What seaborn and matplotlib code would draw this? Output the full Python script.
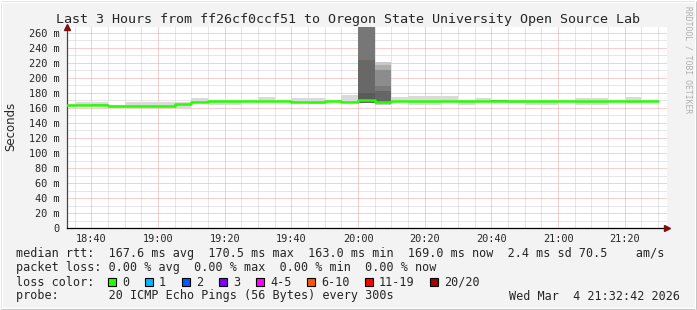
import matplotlib
matplotlib.use("Agg")
import matplotlib.pyplot as plt
import seaborn as sns
from matplotlib.patches import Rectangle
from matplotlib.ticker import FixedLocator, MultipleLocator

# ---------------- data ----------------
title = "Last 3 Hours from ff26cf0ccf51 to Oregon State University Open Source Lab"

seg_start = ["18:30", "18:35", "18:40", "18:45", "18:50", "18:55", "19:00", "19:05",
             "19:10", "19:15", "19:20", "19:25", "19:30", "19:35", "19:40", "19:45",
             "19:50", "19:55", "20:00", "20:05", "20:10", "20:15", "20:20", "20:25",
             "20:30", "20:35", "20:40", "20:45", "20:50", "20:55", "21:00", "21:05",
             "21:10", "21:15", "21:20", "21:25"]
median_ms = [163.5, 164.5, 164.5, 163.0, 163.0, 163.0, 163.0, 165.0,
             167.3, 169.5, 169.5, 169.5, 169.5, 169.5, 168.4, 168.4,
             169.5, 168.5, 170.5, 168.3, 169.5, 169.0, 169.0, 169.3,
             169.0, 169.5, 169.5, 169.0, 169.3, 169.3, 169.3, 169.0,
             169.0, 169.3, 169.5, 169.0]
smoke_lo = [161.0, 162.6, 162.0, 159.6, 159.6, 159.6, 160.0, 159.5,
            166.0, 164.0, 164.0, 168.4, 168.4, 168.4, 166.0, 165.3,
            168.4, 166.0, 166.0, 164.0, 169.0, 164.0, 164.0, 169.0,
            164.0, 169.0, 168.4, 166.0, 164.0, 164.0, 168.4, 164.0,
            164.0, 168.4, 167.0, 168.4]
smoke_hi = [165.0, 168.4, 168.4, 163.5, 168.4, 168.4, 168.4, 168.4,
            172.8, 170.6, 170.6, 170.6, 175.0, 170.6, 172.8, 172.8,
            170.6, 177.0, 267.0, 221.5, 175.0, 176.0, 176.0, 176.0,
            170.6, 173.0, 170.6, 170.6, 170.6, 170.6, 170.6, 173.0,
            173.0, 170.6, 175.0, 170.6]
# darker inner smoke layers (segment start, low, high, grey shade)
layer_time = ["18:40", "20:00", "20:00", "20:00", "20:05", "20:05", "20:05", "20:05", "20:05", "20:40"]
layer_lo = [163.0, 166.0, 166.0, 168.0, 164.0, 165.0, 166.0, 167.0, 168.0, 168.6]
layer_hi = [165.5, 267.0, 224.0, 180.0, 221.5, 217.0, 210.0, 189.0, 182.0, 170.0]
layer_grey = ["#ababab", "#777777", "#686868", "#5a5a5a", "#c8c8c8", "#adadad",
              "#8c8c8c", "#7a7a7a", "#666666", "#8a8a8a"]

ytick_values = [0, 20, 40, 60, 80, 100, 120, 140, 160, 180, 200, 220, 240, 260]
ytick_labels = ["0", "20 m", "40 m", "60 m", "80 m", "100 m", "120 m", "140 m",
                "160 m", "180 m", "200 m", "220 m", "240 m", "260 m"]
xtick_labels = ["18:40", "19:00", "19:20", "19:40", "20:00", "20:20", "20:40", "21:00", "21:20"]
time_start = "18:32:42"

row_rtt = "median rtt:  167.6 ms avg  170.5 ms max  163.0 ms min  169.0 ms now  2.4 ms sd 70.5    am/s"
row_loss = "packet loss: 0.00 % avg  0.00 % max  0.00 % min  0.00 % now"
row_probe = "probe:       20 ICMP Echo Pings (56 Bytes) every 300s"
stamp = "Wed Mar  4 21:32:42 2026"
loss_labels = ["0", "1", "2", "3", "4-5", "6-10", "11-19", "20/20"]
loss_colors = ["#26ff00", "#00b8ff", "#0059ff", "#7e00ff", "#ff00ff", "#ff5500", "#ff0000", "#a00000"]


def to_min(s):
    parts = [int(p) for p in s.split(":")]
    m = (parts[0] - 18) * 60 + parts[1]
    if len(parts) > 2:
        m += parts[2] / 60.0
    return m


# ---------------- figure ----------------
sns.set_style("white")
plt.rcParams["font.family"] = ["DejaVu Sans Mono", "DejaVu Sans"]

W, H = 697, 310
fig = plt.figure(figsize=(W / 100, H / 100), dpi=100)
fig.patch.set_facecolor("#f3f3f3")

def px(x, y):
    return x / W, 1 - y / H

ax_l, ax_r, ax_t, ax_b = 67, 667, 27.4, 228.3
ax = fig.add_axes([ax_l / W, 1 - ax_b / H, (ax_r - ax_l) / W, (ax_b - ax_t) / H])
ax.set_facecolor("white")

x0 = to_min(time_start)
ax.set_xlim(x0, x0 + 180)
ax.set_ylim(0, 267)

starts = [to_min(s) for s in seg_start]
step = starts[1] - starts[0]
edges = starts + [starts[-1] + step]

# grid
ax.xaxis.set_major_locator(FixedLocator([to_min(s) for s in xtick_labels]))
ax.xaxis.set_minor_locator(MultipleLocator(5))
ax.yaxis.set_major_locator(FixedLocator(ytick_values))
ax.yaxis.set_minor_locator(MultipleLocator(10))
ax.grid(which="minor", color="#cfcfcf", linestyle=(0, (1, 1)), linewidth=0.72)
ax.grid(which="major", color="#f2a0a0", linestyle=(0, (1, 1)), linewidth=0.72)
ax.set_axisbelow(True)

# smoke
ax.fill_between(edges, smoke_lo + [smoke_lo[-1]], smoke_hi + [smoke_hi[-1]],
                step="post", color="#dadada", linewidth=0, zorder=2)
for t, lo, hi, g in zip(layer_time, layer_lo, layer_hi, layer_grey):
    s = to_min(t)
    ax.fill_between([s, s + step], [lo, lo], [hi, hi], color=g, linewidth=0, zorder=3)

# median line
sns.lineplot(x=edges, y=median_ms + [median_ms[-1]], drawstyle="steps-post",
             color="#26ff00", linewidth=1.8, estimator=None, sort=False, ax=ax, zorder=4)

ax.set_xticklabels(xtick_labels)
ax.set_yticklabels(ytick_labels)
ax.tick_params(axis="both", which="major", labelsize=7.4, length=3, width=0.7,
               color="#555555", direction="out", pad=2.5)
ax.tick_params(axis="both", which="minor", length=2, width=0.7, color="#999999", direction="out")
ax.tick_params(axis="x", pad=1.2)

for side in ["top", "right"]:
    ax.spines[side].set_visible(False)
ax.spines["left"].set_color("#444444")
ax.spines["bottom"].set_color("#000000")
ax.spines["left"].set_linewidth(0.9)
ax.spines["bottom"].set_linewidth(0.9)

# axis arrows
ax.plot([0], [1.0], marker="^", markersize=5, color="#7f1010", transform=ax.transAxes, clip_on=False, zorder=6)
ax.plot([1.0], [0], marker=">", markersize=5, color="#7f1010", transform=ax.transAxes, clip_on=False, zorder=6)

# y label
fig.text(*px(11, 126), "Seconds", rotation=90, ha="center", va="center",
         family="DejaVu Sans", fontsize=8.5)

# title
fig.text(*px(348, 19), title, ha="center", va="center", fontsize=9.6)

# watermark
fig.text(*px(688, 60), "RRDTOOL / TOBI OETIKER", rotation=-90, ha="center", va="center",
         fontsize=5.8, color="#b0b0b0")

# legend rows
fs = 8.5
fig.text(*px(16, 254), row_rtt, ha="left", va="center", fontsize=fs)
fig.text(*px(16, 268), row_loss, ha="left", va="center", fontsize=fs)
fig.text(*px(16, 282), "loss color:", ha="left", va="center", fontsize=fs)
fig.text(*px(16, 296), row_probe, ha="left", va="center", fontsize=fs)
fig.text(*px(680, 296), stamp, ha="right", va="center", fontsize=fs)

box_x = [108, 145, 182, 219, 256, 307, 365, 430]
lab_x = [122, 159, 196, 233, 270, 321, 379, 444]
for bx, lx, lab, col in zip(box_x, lab_x, loss_labels, loss_colors):
    fig.patches.append(Rectangle(px(bx, 286), 8 / W, 8 / H, facecolor=col, edgecolor="black",
                                 linewidth=0.8, transform=fig.transFigure, figure=fig))
    fig.text(*px(lx, 282), lab, ha="left", va="center", fontsize=fs)

# frame
fig.patches.append(Rectangle((0, 0), 1, 2 / H, facecolor="#a0a0a0", transform=fig.transFigure, figure=fig))
fig.patches.append(Rectangle((1 - 2 / W, 0), 2 / W, 1, facecolor="#a0a0a0", transform=fig.transFigure, figure=fig))
fig.patches.append(Rectangle((0, 1 - 2 / H), 1 - 2 / W, 2 / H, facecolor="#d4d4d4", transform=fig.transFigure, figure=fig))
fig.patches.append(Rectangle((0, 2 / H), 2 / W, 1 - 4 / H, facecolor="#d4d4d4", transform=fig.transFigure, figure=fig))

fig.savefig("out.png", dpi=100, facecolor=fig.get_facecolor())
